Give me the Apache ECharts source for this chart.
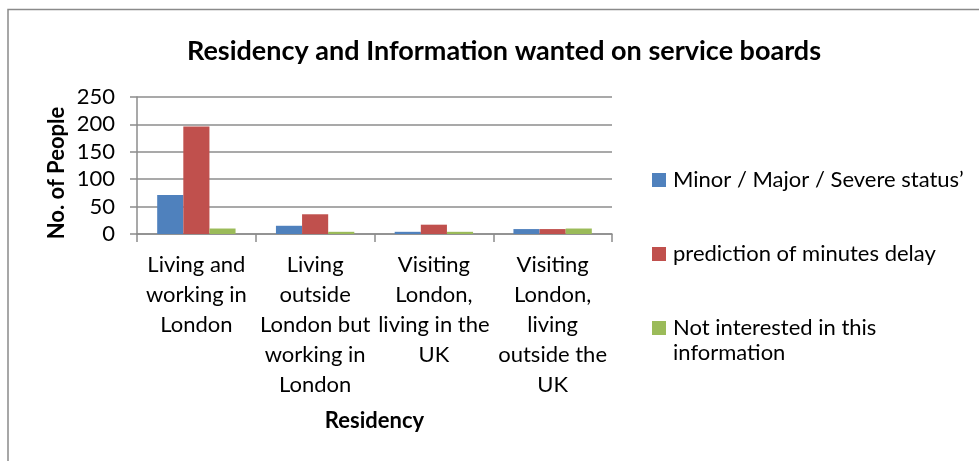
<!DOCTYPE html>
<html>
<head>
<meta charset="utf-8">
<script src="https://cdn.jsdelivr.net/npm/echarts@6/dist/echarts.min.js"></script>
<style>
  html, body { margin: 0; padding: 0; background: #fff; }
  #chart { width: 979px; height: 461px; }
</style>
</head>
<body>
<div id="chart"></div>
<script>
// Residency groups along the x axis
const categories = [
  'Living and\nworking in\nLondon',
  'Living\noutside\nLondon but\nworking in\nLondon',
  'Visiting\nLondon,\nliving in the\nUK',
  'Visiting\nLondon,\nliving\noutside the\nUK'
];

// Number of people per residency group
const statusValues = [71, 15, 4, 9];
const minutesDelayValues = [196, 36, 17, 9];
const notInterestedValues = [10, 4, 4, 10];

const seriesNames = [
  'Minor / Major / Severe status\u2019',
  'prediction of minutes delay',
  'Not interested in this information'
];

const yTicks = [0, 50, 100, 150, 200, 250];

const FONT = 'Lato';
const GRID_COLOR = '#8c8c8c';

const chart = echarts.init(document.getElementById('chart'), null, { renderer: 'canvas' });

function legendFor(name, top, label) {
  return {
    data: [{ name: name, icon: 'rect' }],
    left: 652,
    top: top,
    itemWidth: 14,
    itemHeight: 14,
    itemGap: 0,
    padding: 0,
    formatter: function () { return label; },
    textStyle: { fontFamily: FONT, fontSize: 22, color: '#000', lineHeight: 25, padding: [0, 0, 0, 2] },
    selectedMode: false
  };
}

chart.setOption({
  animation: false,
  color: ['#4F81BD', '#C0504D', '#9BBB59'],
  title: {
    text: 'Residency and Information wanted on service boards',
    left: 499,
    top: 33,
    textAlign: 'center',
    textStyle: { fontFamily: FONT, fontSize: 27, fontWeight: 'bold', color: '#000' }
  },
  legend: [
    legendFor(seriesNames[0], 167.5, seriesNames[0]),
    legendFor(seriesNames[1], 241.5, seriesNames[1]),
    legendFor(seriesNames[2], 290.5, '\nNot interested in this\ninformation')
  ],
  grid: { left: 137, right: 367, top: 97, bottom: 227, containLabel: false },
  xAxis: {
    type: 'category',
    data: categories,
    name: 'Residency',
    nameLocation: 'middle',
    nameGap: 187,
    nameTextStyle: { fontFamily: FONT, fontSize: 22, fontWeight: 'bold', color: '#000', verticalAlign: 'middle' },
    axisLine: { lineStyle: { color: GRID_COLOR, width: 1.5 } },
    axisTick: { show: true, alignWithLabel: false, length: 8, lineStyle: { color: GRID_COLOR, width: 1.5 } },
    axisLabel: { interval: 0, margin: 16, fontFamily: FONT, fontSize: 22, color: '#000', lineHeight: 30, align: 'center' },
    splitLine: { show: false }
  },
  yAxis: {
    type: 'value',
    min: 0,
    max: 250,
    interval: 50,
    name: 'No. of People',
    nameLocation: 'middle',
    nameGap: 80,
    nameRotate: 90,
    nameTextStyle: { fontFamily: FONT, fontSize: 22, fontWeight: 'bold', color: '#000', verticalAlign: 'middle', padding: [0, 15, 0, 0] },
    axisLine: { show: true, lineStyle: { color: GRID_COLOR, width: 1.5 } },
    axisTick: { show: true, length: 7, lineStyle: { color: GRID_COLOR, width: 1.5 } },
    axisLabel: {
      margin: 22, fontFamily: FONT, fontSize: 22, color: '#000',
      formatter: function (v) { return yTicks.indexOf(v) >= 0 ? String(v) : ''; }
    },
    splitLine: { show: true, lineStyle: { color: GRID_COLOR, width: 1.5 } }
  },
  series: [
    { name: seriesNames[0], type: 'bar', data: statusValues, barGap: '0%', barCategoryGap: '34%' },
    { name: seriesNames[1], type: 'bar', data: minutesDelayValues, barGap: '0%', barCategoryGap: '34%' },
    { name: seriesNames[2], type: 'bar', data: notInterestedValues, barGap: '0%', barCategoryGap: '34%' }
  ],
  graphic: [
    {
      type: 'rect',
      shape: { x: 8, y: 9.5, width: 1000, height: 500 },
      style: { fill: 'none', stroke: '#8a8a8a', lineWidth: 1.5 },
      silent: true,
      z: -1
    }
  ]
});
</script>
</body>
</html>
